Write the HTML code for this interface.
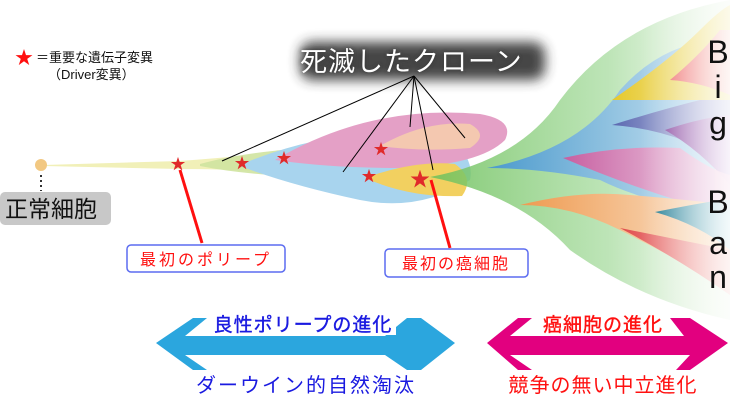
<!DOCTYPE html>
<html><head><meta charset="utf-8"><style>
html,body{margin:0;padding:0;background:#fff;}
svg{display:block;}
text{font-family:"Liberation Sans","Noto Sans CJK JP",sans-serif;}
</style></head><body>
<svg width="730" height="402" viewBox="0 0 730 402" xmlns="http://www.w3.org/2000/svg">
<defs>
<linearGradient id="gG" x1="0" x2="1"><stop offset="0" stop-color="#6cc05a" stop-opacity=".85"/><stop offset=".6" stop-color="#a8dca0" stop-opacity=".75"/><stop offset="1" stop-color="#e8f5e4" stop-opacity=".5"/></linearGradient>
<linearGradient id="gB" x1="0" x2="1"><stop offset="0" stop-color="#3d8fd8"/><stop offset="1" stop-color="#c8e2f4"/></linearGradient>
<linearGradient id="gY" x1="0" x2="1"><stop offset="0" stop-color="#e6c82a"/><stop offset="1" stop-color="#f6eeb8"/></linearGradient>
<linearGradient id="gR" x1="0" x2="1"><stop offset="0" stop-color="#ee6e6e"/><stop offset="1" stop-color="#fbe2dc"/></linearGradient>
<linearGradient id="gPB" x1="0" x2="1"><stop offset="0" stop-color="#5a68b0"/><stop offset="1" stop-color="#dcdcf0"/></linearGradient>
<linearGradient id="gPu" x1="0" x2="1"><stop offset="0" stop-color="#8a4aa0"/><stop offset="1" stop-color="#e8d8f0"/></linearGradient>
<linearGradient id="gPk" x1="0" x2="1"><stop offset="0" stop-color="#d0559a"/><stop offset="1" stop-color="#f6dcec"/></linearGradient>
<linearGradient id="gO" x1="0" x2="1"><stop offset="0" stop-color="#ee9a50"/><stop offset="1" stop-color="#fbe6d0"/></linearGradient>
<linearGradient id="gT" x1="0" x2="1"><stop offset="0" stop-color="#1a7890"/><stop offset="1" stop-color="#d8eef2"/></linearGradient>
<linearGradient id="gRd" x1="0" x2="1"><stop offset="0" stop-color="#e04848"/><stop offset="1" stop-color="#fadcd8"/></linearGradient>
<linearGradient id="fade" x1="0" x2="1"><stop offset="0" stop-color="#fff" stop-opacity="0"/><stop offset="1" stop-color="#fff" stop-opacity=".7"/></linearGradient>
<filter id="blur" x="-20%" y="-50%" width="140%" height="200%"><feGaussianBlur stdDeviation="6"/></filter>
<filter id="tglow"><feGaussianBlur stdDeviation="2"/></filter>
</defs>

<path d="M44,165 L180,161 Q220,158 250,155 L250,171 Q220,169 180,169 L44,166 Z" fill="#f0eeb0" opacity=".9"/>
<path d="M200,164 Q250,150 330,147 L330,178 Q250,176 200,166 Z" fill="#cfe3a0" opacity=".9"/>
<path d="M240,165 Q340,122 450,136 Q475,160 470,180 Q420,212 360,200 Q290,185 240,166 Z" fill="#a8d4ee"/>
<path d="M275,160 Q370,104 480,114 Q515,120 505,140 Q480,165 400,168 Q330,168 275,160 Z" fill="#e4a0c6"/>
<path d="M380,146 Q425,120 470,124 Q490,135 470,148 Q420,152 380,146 Z" fill="#f4c8b0"/>
<path d="M365,178 Q415,160 455,164 Q475,178 462,196 Q410,198 365,178 Z" fill="#f2d060"/>

<path d="M430,177 Q520,160 560,100 Q620,20 730,0 L730,320 Q640,300 570,250 Q520,195 430,177 Z" fill="url(#gG)"/>
<path d="M487,168 Q580,150 620,90 Q660,45 715,40 L715,215 Q640,200 600,180 Q540,168 487,168 Z" fill="url(#gB)" opacity=".85"/>
<path d="M612,100 Q670,60 700,30 Q720,10 730,5 L730,105 L700,100 Z" fill="url(#gY)"/>
<path d="M670,80 Q700,55 720,30 L730,30 L730,95 Q700,82 670,80 Z" fill="url(#gR)"/>
<path d="M612,125 Q660,110 700,100 L730,100 L730,165 Q680,130 612,125 Z" fill="url(#gPB)"/>
<path d="M665,130 Q700,118 730,115 L730,185 Q700,150 665,130 Z" fill="url(#gPu)"/>
<path d="M563,158 Q620,145 680,148 Q710,170 730,175 L730,215 Q650,195 563,158 Z" fill="url(#gPk)" opacity=".9"/>
<path d="M520,205 Q580,190 630,195 Q690,200 730,205 L730,290 Q680,260 620,230 Q570,205 520,205 Z" fill="url(#gO)"/>
<path d="M655,212 Q690,205 720,200 L730,200 L730,250 Q700,225 655,212 Z" fill="url(#gT)"/>
<path d="M620,228 Q680,240 730,250 L730,295 Q680,260 620,228 Z" fill="url(#gRd)"/>
<rect x="640" y="0" width="90" height="330" fill="url(#fade)"/>

<rect x="300" y="42" width="245" height="38" rx="12" fill="#333" filter="url(#blur)" opacity=".9"/>
<text x="300" y="71" font-size="27" fill="#333" filter="url(#tglow)" letter-spacing="1">死滅したクローン</text>
<text x="300" y="71" font-size="27" fill="#fff" letter-spacing="1">死滅したクローン</text>

<g stroke="#000" stroke-width="1">
<line x1="414" y1="76" x2="222" y2="161"/>
<line x1="414" y1="76" x2="343" y2="172"/>
<line x1="414" y1="76" x2="410" y2="127"/>
<line x1="414" y1="76" x2="433" y2="170"/>
<line x1="414" y1="76" x2="465" y2="138"/>
</g>

<g fill="#e02a2a" font-size="15" text-anchor="middle">
<text x="178" y="169">★</text>
<text x="242" y="168">★</text>
<text x="284" y="163">★</text>
<text x="381" y="154">★</text>
<text x="369" y="181">★</text>
<text x="420" y="186" font-size="20">★</text>
</g>

<line x1="180" y1="170" x2="202" y2="243" stroke="#ff1010" stroke-width="3"/>
<line x1="431" y1="180" x2="450" y2="248" stroke="#ff1010" stroke-width="3"/>

<rect x="127" y="245" width="158" height="27" rx="4" fill="#fff" stroke="#5c6cf0" stroke-width="1.5"/>
<text x="206" y="265" font-size="16" fill="#ff1010" text-anchor="middle" letter-spacing="3">最初のポリープ</text>
<rect x="385" y="249" width="143" height="28" rx="4" fill="#fff" stroke="#5c6cf0" stroke-width="1.5"/>
<text x="456" y="269" font-size="16" fill="#ff1010" text-anchor="middle" letter-spacing="2">最初の癌細胞</text>

<circle cx="41" cy="165" r="6" fill="#f2c882"/>
<line x1="41" y1="175" x2="41" y2="191" stroke="#333" stroke-width="2" stroke-dasharray="2,3"/>
<rect x="0" y="192" width="111" height="33" rx="5" fill="#c8c8c8"/>
<text x="5" y="217" font-size="23" fill="#111">正常細胞</text>

<text x="15" y="64" font-size="18" fill="#ff1010">★</text>
<text x="36" y="62" font-size="13" fill="#111">＝重要な遺伝子変異</text>
<text x="48" y="79" font-size="13" fill="#111">（Driver変異）</text>

<g font-size="32" fill="#111" text-anchor="middle">
<text x="718" y="63">B</text>
<text x="718" y="98">i</text>
<text x="718" y="134">g</text>
<text x="718" y="213">B</text>
<text x="718" y="254">a</text>
<text x="718" y="288">n</text>
</g>

<path d="M156,343 L193,318 L207,318 L185,336 L385,336 L407,318 L421,318 L455,343 L421,370 L407,370 L385,355 L185,355 L207,370 L193,370 Z" fill="#2ba6de"/>
<path d="M487,343 L518,318 L532,318 L510,336 L684,336 L670,318 L690,318 L728,343 L690,370 L676,370 L690,355 L510,355 L532,370 L518,370 Z" fill="#e2007f"/>
<rect x="208" y="308" width="188" height="27" fill="#fff"/>
<text x="303" y="331" font-size="19" fill="#1a1ae0" text-anchor="middle" letter-spacing="1" stroke="#1a1ae0" stroke-width=".4">良性ポリープの進化</text>
<rect x="536" y="308" width="132" height="27" fill="#fff"/>
<text x="603" y="331" font-size="19" fill="#ff1010" text-anchor="middle" letter-spacing="1" stroke="#ff1010" stroke-width=".4">癌細胞の進化</text>
<text x="306" y="392" font-size="20" fill="#1a1ae0" text-anchor="middle" letter-spacing="2">ダーウイン的自然淘汰</text>
<text x="603" y="392" font-size="20" fill="#ff1010" text-anchor="middle" letter-spacing="1">競争の無い中立進化</text>
</svg>
</body></html>
